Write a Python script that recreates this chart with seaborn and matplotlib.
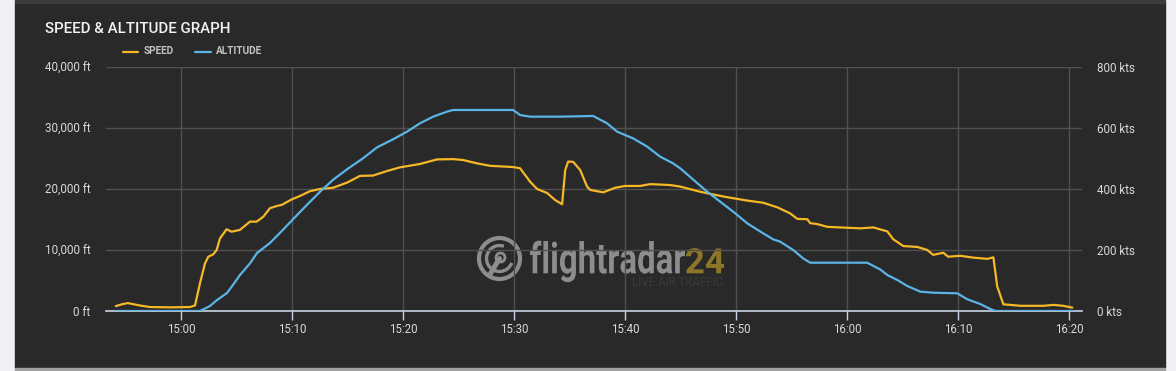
import matplotlib
matplotlib.use("Agg")
import matplotlib.pyplot as plt
import matplotlib.dates as mdates
import matplotlib.transforms as mtransforms
from matplotlib.lines import Line2D
from matplotlib.patches import Circle, Arc, PathPatch, Rectangle
from matplotlib.textpath import TextPath
from matplotlib.font_manager import FontProperties
import pandas as pd
import seaborn as sns

# speed samples (kts)
speed_time = [
    "14:54:08", "14:54:41", "14:55:13", "14:56:18", "14:57:13", "14:59:01", "15:00:49", "15:01:16", "15:01:43", "15:02:10",
    "15:02:28", "15:02:55", "15:03:13", "15:03:31", "15:04:07", "15:04:34", "15:05:19", "15:06:13", "15:06:49", "15:07:25",
    "15:08:01", "15:08:37", "15:09:05", "15:09:59", "15:10:43", "15:11:38", "15:12:32", "15:13:42", "15:14:58", "15:16:08",
    "15:17:18", "15:18:34", "15:19:44", "15:21:32", "15:23:04", "15:24:31", "15:25:25", "15:26:41", "15:27:51", "15:29:55",
    "15:30:33", "15:31:27", "15:32:05", "15:32:59", "15:33:42", "15:34:20", "15:34:37", "15:34:53", "15:35:20", "15:35:58",
    "15:36:35", "15:36:52", "15:38:02", "15:39:07", "15:40:01", "15:41:22", "15:42:16", "15:44:04", "15:44:58", "15:46:46",
    "15:47:57", "15:49:13", "15:51:01", "15:52:27", "15:53:43", "15:54:53", "15:55:31", "15:56:25", "15:56:41", "15:57:19",
    "15:58:13", "15:59:23", "16:01:11", "16:02:22", "16:03:38", "16:04:10", "16:05:04", "16:06:20", "16:07:14", "16:07:46",
    "16:08:40", "16:09:07", "16:10:12", "16:11:22", "16:12:38", "16:13:11", "16:13:32", "16:14:05", "16:15:37", "16:17:41",
    "16:18:35", "16:19:29", "16:20:18",
]
speed_kts = [
    16, 22, 26, 18, 13, 12, 13, 18, 91, 156,
    178, 186, 200, 238, 268, 260, 266, 293, 293, 309,
    337, 344, 348, 366, 377, 393, 400, 404, 421, 443,
    444, 459, 471, 482, 497, 498, 495, 484, 476, 472,
    468, 424, 400, 387, 364, 350, 462, 490, 489, 462,
    408, 397, 389, 404, 410, 410, 416, 413, 408, 391,
    382, 373, 362, 355, 340, 320, 302, 301, 288, 285,
    276, 274, 271, 274, 261, 235, 213, 210, 200, 184,
    191, 178, 181, 175, 171, 176, 80, 22, 17, 17,
    20, 17, 11,
]

# altitude samples (ft)
alt_time = [
    "14:54:08", "15:01:43", "15:02:37", "15:03:15", "15:04:09", "15:04:41", "15:05:19", "15:06:13", "15:06:51", "15:08:01",
    "15:08:55", "15:09:55", "15:11:21", "15:12:32", "15:13:42", "15:14:58", "15:16:24", "15:17:40", "15:19:06", "15:20:22",
    "15:21:32", "15:22:43", "15:23:58", "15:24:31", "15:29:55", "15:30:33", "15:31:27", "15:34:10", "15:37:08", "15:38:23",
    "15:39:17", "15:40:44", "15:42:00", "15:43:10", "15:44:20", "15:44:58", "15:47:24", "15:49:45", "15:51:01", "15:52:27",
    "15:53:21", "15:53:59", "15:55:09", "15:56:03", "15:56:41", "16:01:49", "16:03:00", "16:03:38", "16:04:32", "16:05:26",
    "16:06:36", "16:07:46", "16:09:56", "16:10:50", "16:12:00", "16:12:54", "16:13:22", "16:20:18",
]
alt_ft = [
    0, 0, 820, 1800, 2950, 4260, 5900, 7800, 9500, 11150,
    12800, 14700, 17400, 19560, 21500, 23240, 25030, 26830, 28140, 29400,
    30770, 31860, 32680, 32950, 32950, 32130, 31860, 31860, 31970, 30770,
    29400, 28300, 26950, 25300, 24200, 23400, 19560, 16280, 14370, 12730,
    11750, 11360, 10000, 8630, 7920, 7920, 6800, 5900, 5080, 4100,
    3170, 3000, 2900, 1920, 1150, 330, 0, 0,
]

alt_ticks = [0, 10000, 20000, 30000, 40000]
alt_labels = ["0 ft", "10,000 ft", "20,000 ft", "30,000 ft", "40,000 ft"]
speed_ticks = [0, 200, 400, 600, 800]
speed_labels = ["0 kts", "200 kts", "400 kts", "600 kts", "800 kts"]
x_range = ("14:53:15", "16:21:10")

DAY = "2024-01-01 "
W, H = 1176, 371
BG = "#292929"
SPEED_C = "#f6b826"
ALT_C = "#5bb4e6"
TICK_C = "#d6d9dc"

sns.set_theme(style="dark")
plt.rcParams["font.family"] = ["Roboto", "DejaVu Sans"]

speed = pd.DataFrame({"time": pd.to_datetime([DAY + t for t in speed_time]), "kts": speed_kts})
alt = pd.DataFrame({"time": pd.to_datetime([DAY + t for t in alt_time]), "ft": alt_ft})

fig = plt.figure(figsize=(W / 100, H / 100), dpi=100, facecolor="#f0f0f5")
px = mtransforms.IdentityTransform()


def img_y(y):
    return H - y


# card background and borders
fig.add_artist(Rectangle((15, img_y(368)), 1150, 365, transform=px, color=BG, zorder=-3))
fig.add_artist(Rectangle((15, img_y(3)), 1150, 3, transform=px, color="#3b3b3b", zorder=-3))
fig.add_artist(Rectangle((15, 0), 1150, 3, transform=px, color="#a0a0a0", zorder=-3))

# watermark
wm = "#8d8d8d"
cx, cy = 499.5, img_y(258.5)
fig.add_artist(Circle((cx, cy), 20.5, transform=px, fill=False, ec=wm, lw=3.0, zorder=-1))
fig.add_artist(Arc((cx, cy), 26, 26, theta1=70, theta2=340, transform=px, ec=wm, lw=2.4, zorder=-1))
fig.add_artist(Circle((cx + 1, cy + 1), 4.5, transform=px, fill=False, ec=wm, lw=2.0, zorder=-1))
fig.add_artist(Line2D([cx, cx - 9], [cy, cy - 15], transform=px, color=wm, lw=3.6,
                      solid_capstyle="round", zorder=-1))

tp = TextPath((0, 0), "flightradar", size=1, prop=FontProperties(family="Roboto", weight="bold"))
ext = tp.get_extents()
tr = mtransforms.Affine2D().translate(-ext.x0, 0).scale(155 / ext.width, 43).translate(530, img_y(273.3))
fig.add_artist(PathPatch(tp, transform=tr, color=wm, lw=0, zorder=-1))
tp24 = TextPath((0, 0), "24", size=1, prop=FontProperties(family="Roboto", weight="bold"))
ext24 = tp24.get_extents()
tr24 = mtransforms.Affine2D().translate(-ext24.x0, 0).scale(38 / ext24.width, 35).translate(686, img_y(273.3))
fig.add_artist(PathPatch(tp24, transform=tr24, color="#8e7628", lw=0, zorder=-1))
fig.text(723 / W, 1 - 283 / H, "LIVE AIR TRAFFIC", color="#3a3a3a", fontsize=8.3,
         ha="right", va="center", zorder=-1)

# axes
ax = fig.add_axes([106 / W, (H - 311) / H, 976 / W, 244 / H])
ax.patch.set_visible(False)
ax2 = ax.twinx()

sns.lineplot(data=speed, x="time", y="kts", ax=ax, color=SPEED_C, linewidth=1.6,
             solid_joinstyle="round")
sns.lineplot(data=alt, x="time", y="ft", ax=ax2, color=ALT_C, linewidth=1.6,
             solid_joinstyle="round")

ax.set_xlim(pd.Timestamp(DAY + x_range[0]), pd.Timestamp(DAY + x_range[1]))
ax.set_ylim(0, 800)
ax2.set_ylim(0, 40000)

ax.yaxis.tick_right()
ax2.yaxis.tick_left()
ax.set_yticks(speed_ticks, speed_labels)
ax2.set_yticks(alt_ticks, alt_labels)
ax.xaxis.set_major_locator(mdates.MinuteLocator(byminute=range(0, 60, 10)))
ax.xaxis.set_major_formatter(mdates.DateFormatter("%H:%M"))

for a in (ax, ax2):
    a.set_xlabel("")
    a.set_ylabel("")
    for s in a.spines.values():
        s.set_visible(False)
ax.spines["bottom"].set_visible(True)
ax.spines["bottom"].set_color("#c8d4e6")
ax.spines["bottom"].set_linewidth(1.2)
ax.spines["bottom"].set_zorder(3)

ax.grid(True, color="#505050", linewidth=1.0)
ax2.grid(False)
ax.tick_params(axis="x", colors=TICK_C, labelsize=8.3, length=6.5, width=1, direction="out",
               pad=2, color="#c8d4e6", bottom=True)
ax.tick_params(axis="y", colors=TICK_C, labelsize=8.4, length=0, pad=11)
ax2.tick_params(axis="y", colors=TICK_C, labelsize=8.4, length=0, pad=11)

# title and legend
fig.text(45 / W, 1 - 28.8 / H, "SPEED & ALTITUDE GRAPH", color="#f2f2f2", fontsize=10.8,
         fontweight="medium", ha="left", va="center")
for x0, x1, tx, label, c in [(123, 138, 144, "SPEED", SPEED_C), (195, 211, 216, "ALTITUDE", ALT_C)]:
    fig.add_artist(Line2D([x0, x1], [img_y(51.5)] * 2, transform=px, color=c, lw=1.6))
    fig.text(tx / W, 1 - 51.5 / H, label, color="#c4c4c4", fontsize=7.2, fontweight="bold",
             ha="left", va="center")

fig.savefig("out.png", dpi=100, facecolor=fig.get_facecolor())
